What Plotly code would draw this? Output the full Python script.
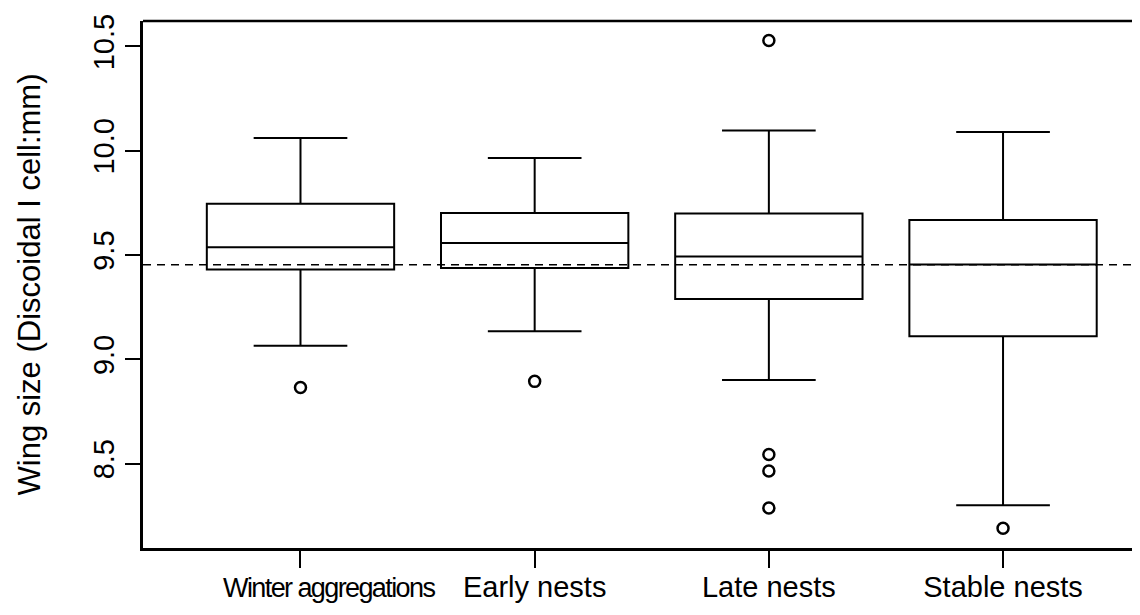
import plotly.graph_objects as go

categories = ["Winter aggregations", "Early nests", "Late nests", "Stable nests"]
positions = [1, 2, 3, 4]
q1 = [9.43, 9.438, 9.289, 9.11]
median = [9.537, 9.558, 9.493, 9.455]
q3 = [9.746, 9.701, 9.699, 9.668]
lower_whisker = [9.065, 9.134, 8.90, 8.30]
upper_whisker = [10.061, 9.965, 10.097, 10.09]
outliers = [[8.865], [8.894], [10.528, 8.543, 8.464, 8.287], [8.19]]
reference_line = 9.453
y_ticks = [8.5, 9.0, 9.5, 10.0, 10.5]
y_tick_labels = ["8.5", "9.0", "9.5", "10.0", "10.5"]
y_title = "Wing size (Discoidal I cell:mm)"

FONT = "Liberation Sans, Arial, Helvetica, sans-serif"

# the first label is set tighter in the original and sits right of its tick
tick_text = list(categories)
tick_text[0] = ("\u00a0" * 7 + "<span style=\"font-size:27px;letter-spacing:-1.6px\">"
                + categories[0] + "</span>")

fig = go.Figure()
for i in range(len(categories)):
    fig.add_trace(go.Box(
        x=[positions[i]],
        q1=[q1[i]], median=[median[i]], q3=[q3[i]],
        lowerfence=[lower_whisker[i]], upperfence=[upper_whisker[i]],
        width=0.8, whiskerwidth=0.5,
        line=dict(color="black", width=2),
        fillcolor="white",
        boxpoints=False,
        showlegend=False,
        hoverinfo="skip",
    ))

ox, oy = [], []
for i, vals in enumerate(outliers):
    for v in vals:
        ox.append(positions[i])
        oy.append(v)
fig.add_trace(go.Scatter(
    x=ox, y=oy, mode="markers",
    marker=dict(symbol="circle-open", size=11, color="black", line=dict(width=2.5)),
    showlegend=False, hoverinfo="skip",
))

fig.add_hline(y=reference_line, line=dict(color="black", width=1.5, dash="8px,6px"))
# top border of the frame (the frame's right edge lies outside the picture)
fig.add_shape(type="line", xref="paper", yref="paper", x0=0, x1=1, y0=1, y1=1,
              line=dict(color="black", width=2.5))

fig.update_layout(
    width=1140, height=615,
    margin=dict(l=135, r=0, t=13, b=75, autoexpand=False),
    paper_bgcolor="white", plot_bgcolor="white",
    font=dict(family=FONT, size=29, color="black"),
    xaxis=dict(
        range=[0.3275, 4.619], tickvals=positions, ticktext=tick_text,
        tickangle=0, automargin=False,
        showline=True, linecolor="black", linewidth=2.5,
        ticks="outside", ticklen=17, tickwidth=2, tickcolor="black",
        showgrid=False, zeroline=False,
        tickfont=dict(size=29, family=FONT),
        ticklabelstandoff=-6,
    ),
    yaxis=dict(
        range=[8.095, 10.622], tickvals=y_ticks, ticktext=y_tick_labels,
        tickangle=-90, automargin=False,
        showline=True, linecolor="black", linewidth=2.5,
        ticks="outside", ticklen=15, tickwidth=2, tickcolor="black",
        showgrid=False, zeroline=False,
        tickfont=dict(size=29, family=FONT),
        title=dict(text="\u00a0\u00a0" + y_title, font=dict(size=31, family=FONT), standoff=38),
    ),
)

fig.write_html("out.html")
